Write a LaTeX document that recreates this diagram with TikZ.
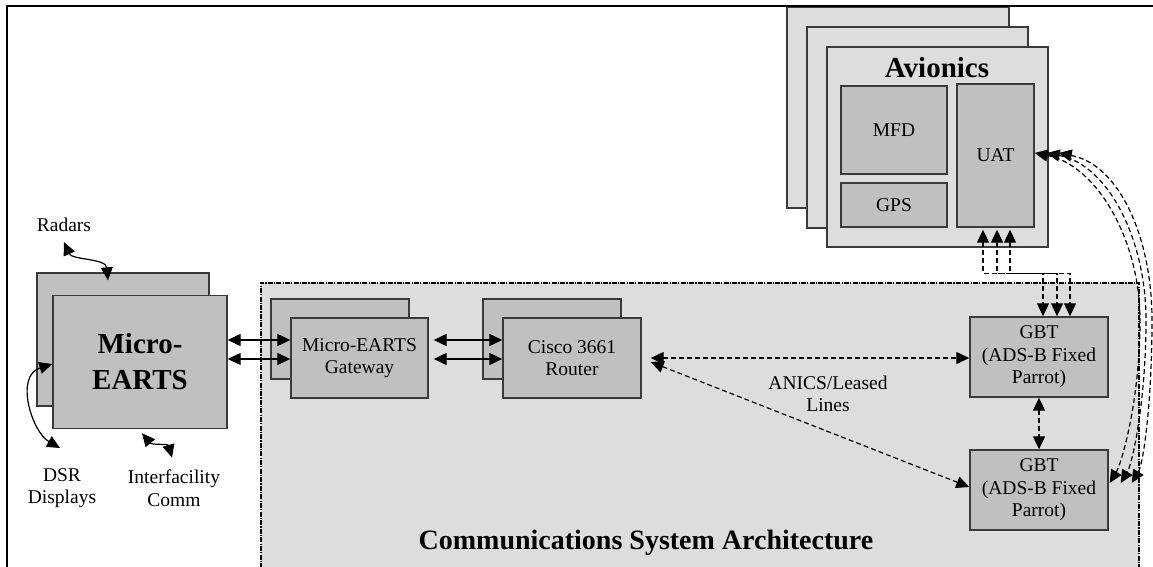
\documentclass[tikz,border=0pt]{standalone}
\usepackage{fontspec}
\setmainfont{Liberation Serif}
\usetikzlibrary{arrows.meta,calc}
\definecolor{boxg}{HTML}{C0C0C0}
\definecolor{areag}{HTML}{DDDDDD}
\definecolor{bordc}{HTML}{3A3A3A}
\newcommand\bodyf{\fontsize{19.5pt}{22.5pt}\selectfont}
\newcommand\bigf{\fontsize{29pt}{36pt}\selectfont\bfseries}
\newcommand\titlef{\fontsize{28pt}{32pt}\selectfont\bfseries}
\begin{document}
\begin{tikzpicture}[x=1pt,y=-1pt,
 box/.style={draw=bordc,fill=boxg,line width=1.4pt,inner sep=0pt,align=center,font=\bodyf},
 abox/.style={box,fill=areag},
 lbl/.style={inner sep=0pt,align=center,font=\bodyf},
 sarr/.style={{Triangle[length=13pt,width=12pt]}-{Triangle[length=13pt,width=12pt]},line width=1.2pt},
 darr/.style={sarr,dash pattern=on 5pt off 3pt},
]
\useasboundingbox (0,0) rectangle (1153,567);
\clip (0,0) rectangle (1153,567);
% communications area
\node[draw=black, fill=areag, line width=1.5pt, dash pattern=on 5pt off 1.2pt on 1.2pt off 1.2pt,
      minimum width=878pt, minimum height=320pt, inner sep=0pt, anchor=north west] (comm) at (260,282) {};
\node[font=\titlef, inner sep=0pt] (title) at (646,543) {Communications System Architecture};

% avionics
\node[abox, minimum width=222pt, minimum height=201pt] (avB) at (898,107.5) {};
\node[abox, minimum width=221pt, minimum height=201pt] (avM) at (917.5,127.5) {};
\node[abox, minimum width=221pt, minimum height=200pt] (avF) at (937.5,147) {};
\node[font=\bigf, inner sep=0pt] (avT) at (937,68) {Avionics};
\node[box, minimum width=106pt, minimum height=88pt] (mfd) at (894,130) {MFD};
\node[box, minimum width=106pt, minimum height=44pt] (gps) at (894,205) {GPS};
\node[box, minimum width=77pt, minimum height=143pt] (uat) at (995.5,155.5) {UAT};

% Micro-EARTS
\node[box, minimum width=172pt, minimum height=133pt] (meB) at (123,339.5) {};
\node[box, minimum width=174pt, minimum height=133pt, font=\bigf] (meF) at (140,362) {Micro-\\EARTS};

% gateway, router
\node[box, minimum width=138pt, minimum height=80pt] (gwB) at (340,339) {};
\node[box, minimum width=137pt, minimum height=80pt] (gwF) at (359.5,358) {Micro-EARTS\\Gateway};
\node[box, minimum width=138pt, minimum height=80pt] (ciB) at (552,339) {};
\node[box, minimum width=138pt, minimum height=80pt] (ciF) at (572,358) {Cisco 3661\\Router};

% GBTs
\node[box, minimum width=138pt, minimum height=80pt] (gbt1) at (1039,357) {GBT\\(ADS-B Fixed\\Parrot)};
\node[box, minimum width=138pt, minimum height=80pt] (gbt2) at (1039,490) {GBT\\(ADS-B Fixed\\Parrot)};

% labels
\node[lbl] (radars) at (64,225) {Radars};
\node[lbl] (dsr) at (62,488) {DSR\\Displays};
\node[lbl] (ifc) at (174,488) {Interfacility\\Comm};
\node[lbl] (anics) at (828,394) {ANICS/Leased\\Lines};

% curly connectors at Micro-EARTS
\draw[sarr] ([yshift=-10pt]radars.south) .. controls +(8,18) and +(-2,-22) .. ([xshift=-15pt,yshift=-8pt]meB.north);
\draw[sarr] ([yshift=-2pt]meF.west) .. controls +(-38,12) and +(-28,-16) .. ([xshift=-2pt,yshift=20pt]dsr.north);
\draw[sarr] ([xshift=2pt,yshift=-4pt]meF.south) .. controls +(10,12) and +(-4,-14) .. ([xshift=-2pt,yshift=12pt]ifc.north);

% solid links
\draw[sarr] ([yshift=18pt]gwF.west -| meF.east) -- ([yshift=18pt]gwF.west);
\draw[sarr] ([yshift=-1pt]gwF.west -| meF.east) -- ([yshift=-1pt]gwF.west);
\draw[sarr] ([yshift=18pt,xshift=5pt]gwF.east) -- ([yshift=18pt]ciF.west);
\draw[sarr] ([yshift=-1pt,xshift=5pt]gwF.east) -- ([yshift=-1pt]ciF.west);

% dashed links
\draw[darr] ([xshift=9pt]ciF.east) -- (ciF.east -| gbt1.west);
\draw[darr] ([xshift=9pt,yshift=-4pt]ciF.east) -- ([yshift=3pt]gbt2.west);
\draw[darr] (gbt1.south) -- (gbt2.north);

% UAT to GBT1
\draw[darr] ([xshift=-12.5pt,yshift=-2pt]uat.south) -- ++(0,44) -| ([xshift=4pt]gbt1.north);
\draw[darr] ([xshift=1.5pt,yshift=-2pt]uat.south) -- ++(0,44) -| ([xshift=18pt]gbt1.north);
\draw[darr] ([xshift=14.5pt,yshift=-2pt]uat.south) -- ++(0,44) -| ([xshift=31pt]gbt1.north);

% UAT to GBT2 curves
\coordinate (m1) at (1140,320);
\coordinate (m2) at (1146,320);
\coordinate (m3) at (1152,320);
\draw[darr] ([yshift=2.5pt]uat.east) .. controls +(62,12) and +(0,-80) .. (m1) .. controls +(0,80) and +(12,-20) .. ([xshift=1pt,yshift=7pt]gbt2.east);
\draw[darr] ([xshift=12pt,yshift=2.5pt]uat.east) .. controls +(62,12) and +(0,-80) .. (m2) .. controls +(0,80) and +(12,-20) .. ([xshift=12pt,yshift=7pt]gbt2.east);
\draw[darr] ([xshift=24pt,yshift=2.5pt]uat.east) .. controls +(62,12) and +(0,-80) .. (m3) .. controls +(0,80) and +(12,-20) .. ([xshift=23pt,yshift=7pt]gbt2.east);

% outer frame
\draw[line width=2.5pt] (7,600) -- (7,6) -- (1200,6);
\end{tikzpicture}
\end{document}
